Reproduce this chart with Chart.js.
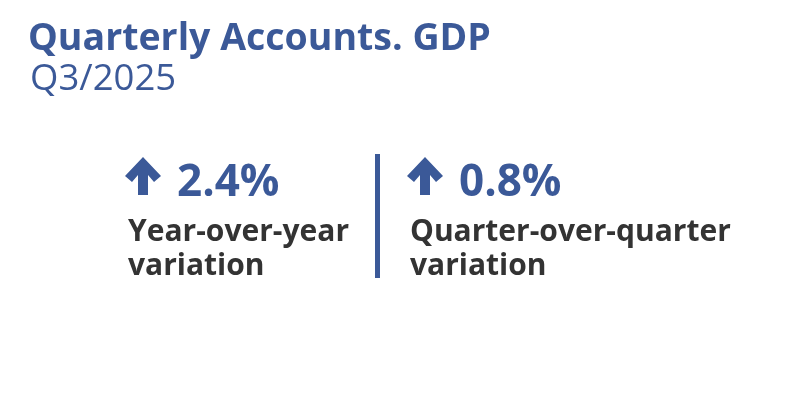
<!DOCTYPE html>
<html><head><meta charset="utf-8">
<script src="https://cdn.jsdelivr.net/npm/chart.js@4"></script>
<style>html,body{margin:0;padding:0;background:#fff}#w{width:801px;height:401px}</style>
</head><body><div id="w"><canvas id="c"></canvas></div>
<script>
const title = "Quarterly Accounts. GDP";
const period = "Q3/2025";
const indicatorValues = [2.4, 0.8];
const indicatorLabels = [["Year-over-year", "variation"], ["Quarter-over-quarter", "variation"]];
const BLUE = "#3b5998", DARK = "#333333";

function arrow(ctx, x, y) {
  ctx.fillStyle = BLUE;
  ctx.beginPath();
  ctx.moveTo(x + 17, y);
  ctx.lineTo(x + 35, y + 19);
  ctx.lineTo(x + 28, y + 25);
  ctx.lineTo(x + 22, y + 18);
  ctx.lineTo(x + 22, y + 38);
  ctx.lineTo(x + 12, y + 38);
  ctx.lineTo(x + 12, y + 18);
  ctx.lineTo(x + 6, y + 25);
  ctx.lineTo(x - 1, y + 19);
  ctx.closePath();
  ctx.fill();
}

const kpiPlugin = {
  id: 'kpi',
  afterDraw(chart) {
    const ctx = chart.ctx;
    ctx.save();
    ctx.textBaseline = 'alphabetic';
    ctx.fillStyle = BLUE;
    ctx.font = 'bold 37.5px "Open Sans"';
    ctx.fillText(title, 28, 50);
    ctx.font = '36.5px "Open Sans"';
    ctx.fillText(period, 30, 90);
    const xs = [126, 408];
    indicatorValues.forEach((v, i) => {
      const x = xs[i];
      arrow(ctx, x, 157);
      ctx.fillStyle = BLUE;
      ctx.font = 'bold 44px "Open Sans"';
      ctx.fillText(v.toFixed(1) + '%', x + 51, 196);
      ctx.fillStyle = DARK;
      ctx.font = 'bold 30px "Open Sans"';
      indicatorLabels[i].forEach((t, j) => ctx.fillText(t, x + 2, 241 + j * 34));
    });
    ctx.fillStyle = BLUE;
    ctx.fillRect(375, 154, 5, 124);
    ctx.restore();
  }
};

new Chart(document.getElementById('c'), {
  type: 'bar',
  data: { labels: indicatorLabels.map(l => l.join(' ')), datasets: [{ data: indicatorValues, backgroundColor: 'rgba(0,0,0,0)' }] },
  options: {
    responsive: true, maintainAspectRatio: false, animation: false,
    plugins: { legend: { display: false }, tooltip: { enabled: false } },
    scales: { x: { display: false }, y: { display: false } }
  },
  plugins: [kpiPlugin]
});
</script></body></html>
